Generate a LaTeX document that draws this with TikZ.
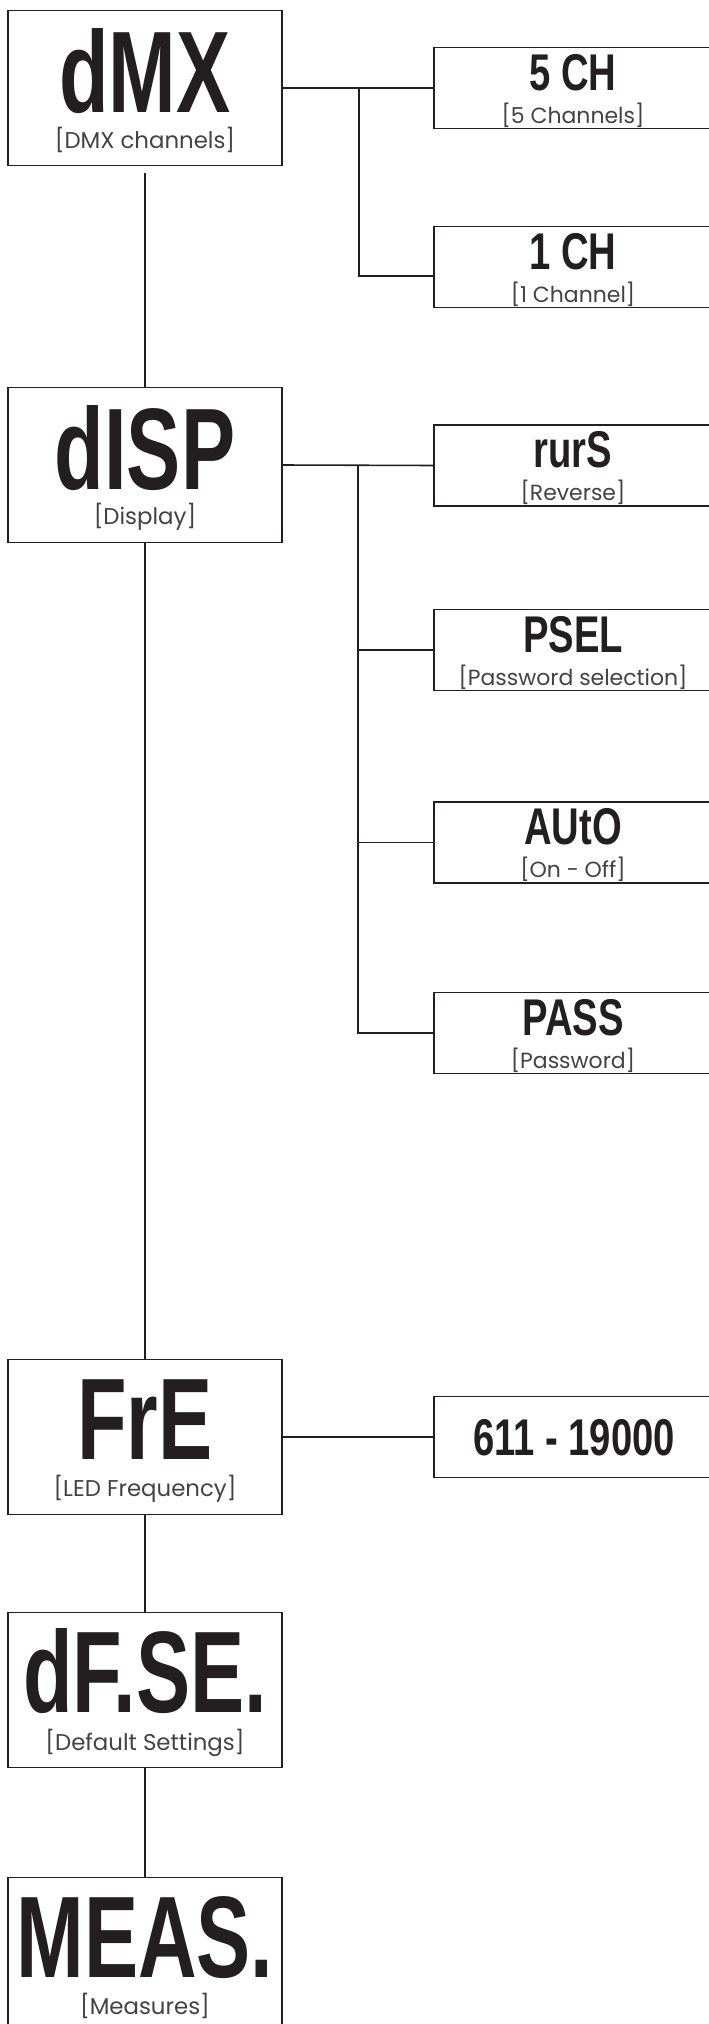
\documentclass[tikz,border=0pt]{standalone}
\usepackage{fontspec}
\setmainfont{Poppins}
\newfontfamily\bigsegfont{Liberation Sans}[FakeStretch=0.70]
\newfontfamily\segfont{Liberation Sans}[FakeStretch=0.74]
\definecolor{ink}{HTML}{231F20}
\tikzset{
  menubox/.style={draw=ink, line width=0.9pt, minimum width=5.48cm, minimum height=3.1cm, inner sep=0pt},
  subbox/.style={draw=ink, line width=0.9pt, minimum width=5.56cm, minimum height=1.62cm, inner sep=0pt},
  bigseg/.style={inner sep=0pt, text=ink, font=\bigsegfont\bfseries\fontsize{66}{66}\selectfont},
  smallseg/.style={inner sep=0pt, text=ink, font=\segfont\bfseries\fontsize{29.4}{30}\selectfont},
  menulbl/.style={inner sep=0pt, text=ink!85, font=\fontsize{13}{14}\selectfont},
  sublbl/.style={inner sep=0pt, text=ink!85, font=\fontsize{12.5}{14}\selectfont},
  wire/.style={draw=ink, line width=0.9pt}
}
\begin{document}
\begin{tikzpicture}[x=0.02cm,y=-0.02cm]
\useasboundingbox (0,0) rectangle (708,2024);
\node[menubox] (dmx) at (145,88) {};
\node[bigseg] (dmxseg) at (145,71) {dMX};
\node[menulbl] (dmxlbl) at (145,140) {[DMX channels]};
\node[subbox] (ch5) at (573,88) {};
\node[smallseg] (ch5seg) at (573,73) {5 CH};
\node[sublbl] (ch5lbl) at (573,115) {[5 Channels]};
\node[subbox] (ch1) at (573,267) {};
\node[smallseg] (ch1seg) at (573,252) {1 CH};
\node[sublbl] (ch1lbl) at (573,294) {[1 Channel]};

\node[menubox] (disp) at (145,465) {};
\node[bigseg] (dispseg) at (145,448) {dISP};
\node[menulbl] (displbl) at (145,517) {[Display]};
\node[subbox] (rurs) at (573,465.5) {};
\node[smallseg] (rursseg) at (573,450) {rurS};
\node[sublbl] (ruralbl) at (573,492) {[Reverse]};
\node[subbox] (psel) at (573,650) {};
\node[smallseg] (pselseg) at (573,635) {PSEL};
\node[sublbl] (psellbl) at (573,677) {[Password selection]};
\node[subbox] (auto) at (573,842.5) {};
\node[smallseg] (autoseg) at (573,827) {AUtO};
\node[sublbl] (autolbl) at (573,869) {[On - Off]};
\node[subbox] (pass) at (573,1033) {};
\node[smallseg] (passseg) at (573,1018) {PASS};
\node[sublbl] (passlbl) at (573,1060) {[Password]};

\node[menubox] (fre) at (145,1437) {};
\node[bigseg] (freseg) at (145,1420) {FrE};
\node[menulbl] (frelbl) at (145,1489) {[LED Frequency]};
\node[subbox] (freq) at (573,1437) {};
\node[smallseg] (freqseg) at (574,1438) {611 - 19000};

\node[menubox] (dfse) at (145,1690) {};
\node[bigseg] (dfseseg) at (145,1671) {dF.SE.};
\node[menulbl] (dfselbl) at (145,1743) {[Default Settings]};

\node[menubox] (meas) at (145,1955) {};
\node[bigseg] (measseg) at (145,1938) {MEAS.};
\node[menulbl] (measlbl) at (145,2006) {[Measures]};

\coordinate (dmxbr) at (359,88);
\coordinate (dispbr) at (358,465.5);
\draw[wire, shorten <=0.14cm] (dmx.south) -- (disp.north);
\draw[wire] (disp.south) -- (fre.north);
\draw[wire] (fre.south) -- (dfse.north);
\draw[wire] (dfse.south) -- (meas.north);
\draw[wire] (dmx.east) -- (ch5.west);
\draw[wire] (dmxbr) |- ([yshift=-0.18cm]ch1.west);
\draw[wire] (disp.east) -- (rurs.west);
\draw[wire] (dispbr) |- (psel.west) (dispbr) |- (auto.west) (dispbr) |- (pass.west);
\draw[wire] (fre.east) -- (freq.west);
\end{tikzpicture}
\end{document}
